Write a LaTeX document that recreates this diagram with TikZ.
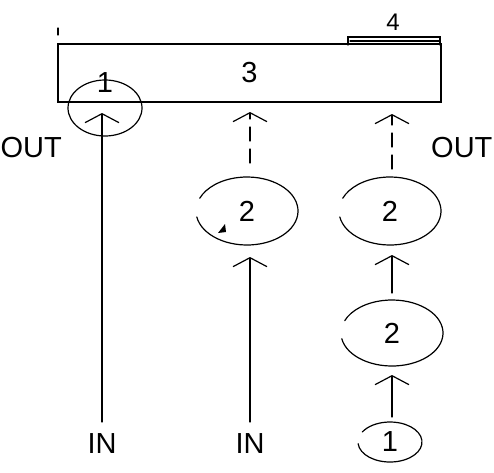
\documentclass[tikz,border=0pt]{standalone}
\usepackage{fontspec}
\setmainfont{Liberation Sans}
\usetikzlibrary{arrows.meta,shapes.geometric,calc}
\tikzset{
  ink/.style={line width=1.2pt, line cap=round},
  lbl/.style={font=\fontsize{29}{34}\selectfont, inner sep=0pt},
  smalllbl/.style={font=\fontsize{24}{28}\selectfont, inner sep=0pt},
  ell/.style={ellipse, inner sep=0pt, outer sep=0pt, font=\fontsize{29}{34}\selectfont},
  arr/.style={ink, -{Straight Barb[length=9pt,width=34pt]}},
  dasharr/.style={arr, dash pattern=on 14pt off 8pt},
}
\begin{document}
\begin{tikzpicture}[x=1pt,y=1pt]
\useasboundingbox (0,0) rectangle (494,-472);

% long container 3
\node[ink, draw, minimum width=383pt, minimum height=58pt, inner sep=0pt, outer sep=0pt,
      font=\fontsize{29}{34}\selectfont] (rect) at (249.5,-73) {3};
% strip 4
\draw[ink] (348,-45) -- (348,-37) -- (440,-37) -- (440,-45);
\draw[ink] (350,-41) -- (440,-41);
\node[smalllbl] (four) at (393,-22) {4};
\draw[ink] (58,-28) -- (58,-35);

% left column
\node[ell, ink, draw, minimum width=74pt, minimum height=56pt] (e1) at (105,-108) {};
\node[lbl] (one) at (105,-83) {1};
\node[lbl, anchor=north] (in1) at (102,-433) {IN};
\coordinate (t1) at (102,-113);
\draw[arr, shorten <=11pt] (in1.north) -- (t1);
\node[lbl, anchor=east] (outL) at (62,-148) {OUT};

% middle column
\node[ell, minimum width=102pt, minimum height=68pt] (e2a) at (247,-211) {2};
\draw[ink] ([shift={(190:51pt and 34pt)}]e2a.center) arc[start angle=190, end angle=518, x radius=51pt, y radius=34pt];
\fill (218,-233) -- (225,-224) -- (226,-232) -- cycle;
\node[lbl, anchor=north] (in2) at (250,-433) {IN};
\draw[arr, shorten <=11pt, shorten >=12pt] (in2.north) -- (in2.north |- e2a.south);
\draw[dasharr, shorten <=14pt, shorten >=10pt] (e2a.north -| in2.north) -- (in2.north |- rect.south);

% right column
\node[ell, minimum width=102pt, minimum height=68pt] (e2b) at (390,-211) {2};
\draw[ink] ([shift={(190:51pt and 34pt)}]e2b.center) arc[start angle=190, end angle=518, x radius=51pt, y radius=34pt];
\node[ell, minimum width=102pt, minimum height=66pt] (e2c) at (392,-333) {2};
\draw[ink] ([shift={(190:51pt and 33pt)}]e2c.center) arc[start angle=190, end angle=518, x radius=51pt, y radius=33pt];
\node[ell, minimum width=64pt, minimum height=40pt] (e1b) at (390,-442) {1};
\draw[ink] ([shift={(185:32pt and 20pt)}]e1b.center) arc[start angle=185, end angle=510, x radius=32pt, y radius=20pt];
\coordinate (cx) at (392,0);
\draw[arr, shorten <=5pt, shorten >=9pt] (e1b.north -| cx) -- (e2c.south -| cx);
\draw[arr, shorten <=7pt, shorten >=10pt] (e2c.north -| cx) -- (e2b.south -| cx);
\draw[dasharr, shorten <=8pt, shorten >=12pt] (e2b.north -| cx) -- (rect.south -| cx);
\node[lbl, anchor=west] (outR) at (431,-148) {OUT};
\end{tikzpicture}
\end{document}
